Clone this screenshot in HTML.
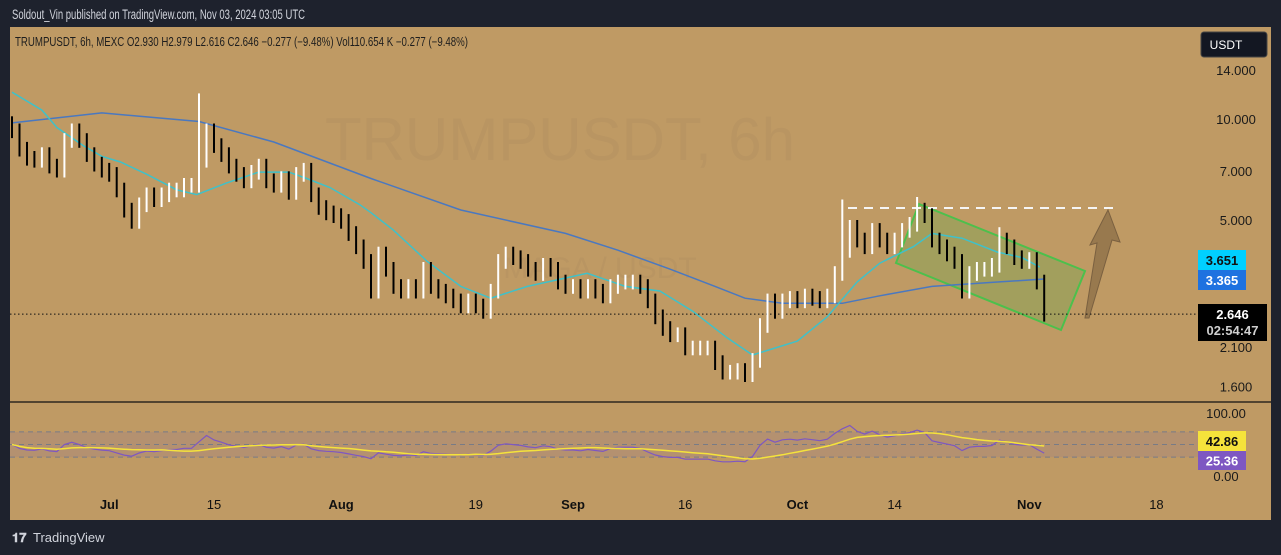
<!DOCTYPE html>
<html><head><meta charset="utf-8">
<style>
html,body{margin:0;padding:0;background:#1e222d;width:1281px;height:555px;overflow:hidden;font-family:"Liberation Sans",sans-serif}
svg{display:block}
</style></head>
<body>
<svg id="chart" width="1281" height="555" xmlns="http://www.w3.org/2000/svg">
<rect x="0" y="0" width="1281" height="555" fill="#1e222d"/>
<text x="12" y="19" fill="#d1d4dc" font-size="13.5" textLength="293" lengthAdjust="spacingAndGlyphs">Soldout_Vin published on TradingView.com, Nov 03, 2024 03:05 UTC</text>
<rect x="10" y="27" width="1261" height="493" fill="#bf9a64"/>
<text x="560" y="160" fill="#a88a5c" fill-opacity="0.28" font-size="60" text-anchor="middle">TRUMPUSDT, 6h</text>
<text x="600" y="278" fill="#a88a5c" fill-opacity="0.28" font-size="30" text-anchor="middle">MAGA / USDT</text>
<line x1="10" y1="402" x2="1271" y2="402" stroke="#111" stroke-width="1.2"/>
<g id="grp-price"></g>
<g id="grp-rsi"></g>
<g id="grp-axis"></g>
<text x="15" y="46" fill="#1e1e1e" font-size="12.5" textLength="453" lengthAdjust="spacingAndGlyphs">TRUMPUSDT, 6h, MEXC  O2.930  H2.979  L2.616  C2.646  −0.277 (−9.48%)  Vol110.654 K  −0.277 (−9.48%)</text>
<rect x="1201" y="32" width="66" height="25" rx="3" fill="#131722" stroke="#444"/>
<text x="1226" y="49" fill="#fff" font-size="12" text-anchor="middle">USDT</text>
<text x="12" y="542" fill="#d1d4dc" font-size="13" font-weight="bold">𝟏𝟕</text>
<text x="33" y="542" fill="#d1d4dc" font-size="13">TradingView</text>
</svg>
<script>
const closes=[9.3,8.2,7.7,7.6,7.9,7.3,7.1,8.7,9.3,8.7,7.9,7.4,7.1,6.9,6.2,5.4,5.0,5.6,6.0,5.8,6.0,6.2,6.2,6.4,6.4,7.6,9.3,8.4,7.9,7.3,6.9,6.6,7.0,7.3,6.6,6.4,6.7,6.1,6.9,7.1,6.0,5.5,5.3,5.2,5.0,4.6,4.2,3.8,3.1,4.0,3.6,3.2,3.1,3.2,3.1,3.6,3.2,3.1,3.0,2.9,2.8,2.9,2.8,2.7,3.1,3.8,4.0,3.9,3.8,3.6,3.5,3.7,3.6,3.3,3.2,3.2,3.1,3.2,3.1,3.0,3.2,3.3,3.3,3.3,3.2,2.9,2.6,2.4,2.3,2.3,2.1,2.1,2.1,2.1,1.9,1.78,1.78,1.8,1.75,1.93,2.45,2.9,2.7,2.9,2.95,2.9,3.0,2.95,2.9,3.0,3.5,4.1,4.8,4.4,4.2,4.7,4.4,4.2,4.4,4.7,4.9,5.4,5.2,4.4,4.2,4.0,3.8,3.1,3.5,3.6,3.6,3.7,4.4,4.2,3.9,3.8,3.85,3.3,2.646];
const highs={25:12.0,111:5.8,121:5.9,132:4.8};
const fastDays=[0,4,6,9.5,12,14.5,18,22,24.7,28.7,33,37,39.4,42.5,46.5,48,51,55.5,60,64,68.9,76.9,82,86.6,91,95.6,99,105,109,113,116,120.5,123,127,131.7,135,137.4];
const fastVals=[12.1,10.7,9.5,8.4,7.8,7.5,6.9,6.2,6.0,6.5,7.0,7.0,6.7,6.3,5.6,5.3,4.7,3.8,3.2,2.95,3.2,3.5,3.2,3.1,2.7,2.25,2.0,2.2,2.6,3.3,3.75,4.2,4.6,4.45,4.05,3.9,3.65];
const slowDays=[0,12,25,35,48,60,74,81,88,94,98,103,111,116,123,132,138];
const slowVals=[9.8,10.5,9.9,8.6,6.7,5.4,4.6,4.1,3.6,3.2,2.95,2.85,2.85,3.0,3.2,3.3,3.365];
const priceTicks=[14,10,7,5,2.1,1.6];
const timeLabels=["Jul","15","Aug","19","Sep","16","Oct","14","Nov","18"];
const timeDays=[13,27,44,62,75,90,105,118,136,153];
const boldLabels=["Jul","Aug","Sep","Oct","Nov"];
const NS="http://www.w3.org/2000/svg";
const xDay=d=>12+7.48*d;
const yP=p=>120-146*Math.log(p/10);
const yR=v=>476-0.63*v;
function mk(tag,attrs,parent){const e=document.createElementNS(NS,tag);for(const k in attrs)e.setAttribute(k,attrs[k]);parent.appendChild(e);return e;}
const gp=document.getElementById('grp-price'),gr=document.getElementById('grp-rsi'),ga=document.getElementById('grp-axis');
let ch=mk('polygon',{points:"919,204 1085,271 1061,330 896,263",fill:"rgba(110,170,80,0.35)",stroke:"#4cc04c","stroke-width":2},gp);


let dl=mk('line',{x1:848,y1:208,x2:1120,y2:208,stroke:"#f5f5f5","stroke-width":2,"stroke-dasharray":"9,7"},gp);


let ar=mk('polygon',{points:"1085,318 1097,243 1090,245 1108,210 1120,242 1112,240 1089,318",fill:"#8f7148","fill-opacity":"0.8",stroke:"#7a6040"},gp);


let lp=mk('line',{x1:10,y1:yP(closes[closes.length-1]),x2:1198,y2:yP(closes[closes.length-1]),stroke:"#111","stroke-width":1,"stroke-dasharray":"1.5,2.5"},gp);


function line(days,vals,color,name){let pts=days.map((d,i)=>xDay(d).toFixed(1)+","+yP(vals[i]).toFixed(1)).join(" ");
let l=mk('polyline',{points:pts,fill:"none",stroke:color,"stroke-width":1.5},gp);

}
line(slowDays,slowVals,"#4a78c0","ma-slow-line");
line(fastDays,fastVals,"#3fc1c9","ma-fast-line");
closes.forEach((c,i)=>{const o=i>0?closes[i-1]:c*1.05;const hi=highs[i]||Math.max(o,c)*1.05;const lo=Math.min(o,c)*0.95;const x=xDay(i);const col=c>=o?"#ffffff":"#000000";
let b=mk('line',{x1:x.toFixed(1),y1:yP(hi).toFixed(1),x2:x.toFixed(1),y2:yP(lo).toFixed(1),stroke:col,"stroke-width":2},gp);

});
let band=mk('rect',{x:10,y:yR(70),width:1188,height:yR(30)-yR(70),fill:"#8a6fa0","fill-opacity":"0.2"},gr);


[70,50,30].forEach(v=>{let l=mk('line',{x1:10,x2:1198,y1:yR(v),y2:yR(v),stroke:"#787b86","stroke-width":1,"stroke-dasharray":"5,4"},gr);

});
const rsi=[];let ag=0.3,al=0.3;const N=14;
closes.forEach((c,i)=>{if(i===0){rsi.push(50);return;}const d=c-closes[i-1];const g=Math.max(d,0),lo=Math.max(-d,0);
ag=(ag*(N-1)+g)/N;al=(al*(N-1)+lo)/N;
rsi.push(al===0?70:100-100/(1+ag/al));});
const rsiMa=rsi.map((v,i)=>{const s=rsi.slice(Math.max(0,i-13),i+1);return s.reduce((a,b)=>a+b,0)/s.length;});
let rl=mk('polyline',{points:rsi.map((v,i)=>xDay(i).toFixed(1)+","+yR(v).toFixed(1)).join(" "),fill:"none",stroke:"#7e57c2","stroke-width":1.2},gr);


let rm=mk('polyline',{points:rsiMa.map((v,i)=>xDay(i).toFixed(1)+","+yR(v).toFixed(1)).join(" "),fill:"none",stroke:"#f5e33b","stroke-width":1.5},gr);


priceTicks.forEach(p=>{let t=mk('text',{x:1236,y:yP(p)+4,fill:"#1a1a1a","font-size":13,"text-anchor":"middle"},ga);t.textContent=p.toFixed(3);

});
[[100,"100.00"],[0,"0.00"]].forEach(a=>{let t=mk('text',{x:1226,y:yR(a[0])+5,fill:"#1a1a1a","font-size":13,"text-anchor":"middle"},ga);t.textContent=a[1];

});
timeLabels.forEach((s,i)=>{let t=mk('text',{x:xDay(timeDays[i]),y:509,fill:"#111","font-size":13,"text-anchor":"middle","font-weight":boldLabels.includes(s)?"bold":"normal"},ga);t.textContent=s;

});
function badge(x,y,w,h,bg,fg,txt,name,sub){let r=mk('rect',{x:x,y:y,width:w,height:h,fill:bg},ga);


let t=mk('text',{x:x+w/2,y:sub?y+15:y+h/2+5,fill:fg,"font-size":13,"font-weight":"bold","text-anchor":"middle"},ga);t.textContent=txt;


if(sub){let s=mk('text',{x:x+w/2,y:y+31,fill:"#cfcfcf","font-size":13,"font-weight":"bold","text-anchor":"middle"},ga);s.textContent=sub;

}}
badge(1198,250,48,20,"#00d0ff","#111","3.651","ma-fast-badge");
badge(1198,270,48,20,"#1e72e0","#fff",slowVals[slowVals.length-1].toFixed(3),"ma-slow-badge");
badge(1198,304,69,37,"#000","#fff",closes[closes.length-1].toFixed(3),"last-price-badge","02:54:47");
badge(1198,431,48,20,"#f5e33b","#111","42.86","rsi-ma-badge");
badge(1198,451,48,19,"#7e57c2","#fff","25.36","rsi-badge");
</script>
</body></html>
